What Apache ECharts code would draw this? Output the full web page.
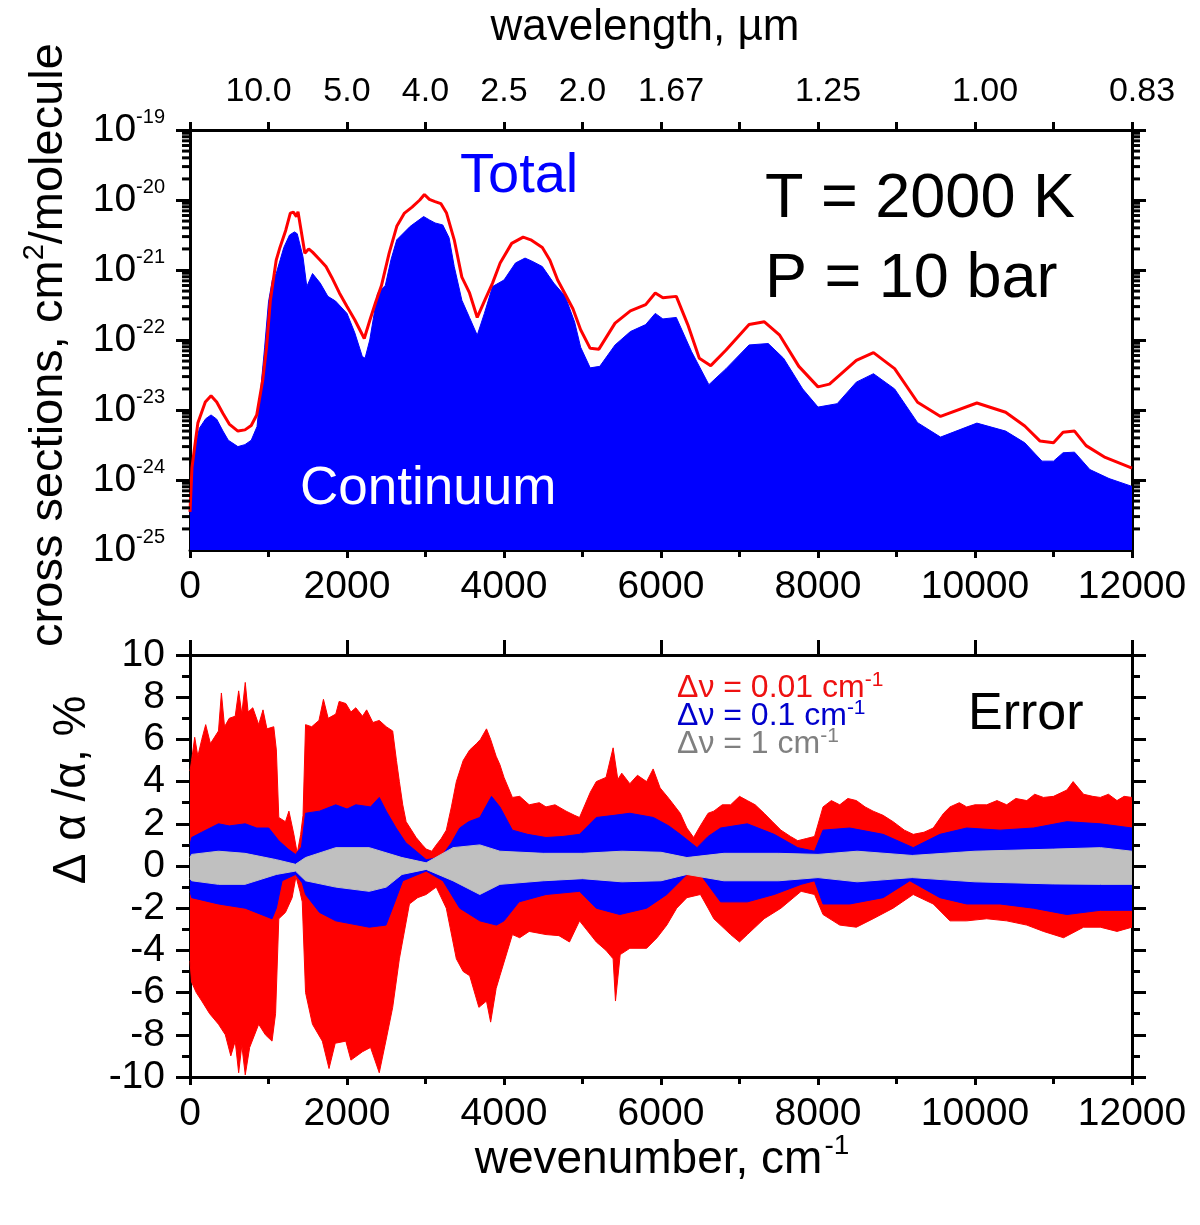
<!DOCTYPE html>
<html>
<head>
<meta charset="utf-8">
<script src="https://cdn.jsdelivr.net/npm/echarts@6/dist/echarts.min.js"></script>
<style>
html,body{margin:0;padding:0;background:#fff;overflow:hidden;}
#chart{width:1200px;height:1225px;}
</style>
</head>
<body>
<div id="chart"></div>
<script>
// ---------- DATA ----------
// Top panel: cross sections (cm^2/molecule) vs wavenumber (cm^-1)
var totalX = [0,25,60,100,195,268,340,420,500,610,700,780,850,927,975,1024,1098,1146,1220,1278,1317,1356,1376,1415,1463,1512,1561,1659,1732,1805,1903,2000,2098,2220,2293,2366,2439,2537,2634,2732,2829,2927,2986,3049,3122,3195,3268,3366,3463,3561,3659,3756,3854,3951,4098,4244,4341,4488,4585,4683,4780,4878,4976,5098,5209,5415,5610,5805,5927,6024,6195,6341,6488,6634,6829,7122,7317,7512,7756,8000,8146,8488,8707,8976,9268,9561,10024,10390,10634,10829,11000,11122,11268,11415,11659,12000];
var totalY = [3.5e-25,1.5e-24,3.0e-24,6.5e-24,1.3e-23,1.6e-23,1.3e-23,8.9e-24,6.3e-24,5.0e-24,5.2e-24,6.0e-24,8.5e-24,2.7e-23,7.9e-23,3.7e-22,1.38e-21,2.1e-21,3.7e-21,6.5e-21,6.7e-21,5.8e-21,6.8e-21,3.7e-21,1.74e-21,2.0e-21,1.8e-21,1.38e-21,1.12e-21,7.9e-22,4.7e-22,3.0e-22,1.95e-22,1.05e-22,1.95e-22,3.5e-22,6.0e-22,1.74e-21,4.2e-21,6.5e-21,7.9e-21,1.0e-20,1.2e-20,1.02e-20,9.5e-21,8.9e-21,6.5e-21,2.7e-21,7.9e-22,4.7e-22,2.1e-22,3.7e-22,6.5e-22,1.26e-21,2.4e-21,2.95e-21,2.7e-21,2.1e-21,1.38e-21,7.2e-22,4.5e-22,2.8e-22,1.4e-22,7.6e-23,7.4e-23,1.74e-22,2.6e-22,3.2e-22,4.7e-22,4.0e-22,4.2e-22,1.66e-22,5.5e-23,4.3e-23,7.2e-23,1.66e-22,1.82e-22,1.17e-22,4.2e-23,2.14e-23,2.34e-23,5.1e-23,6.6e-23,3.9e-23,1.29e-23,8.1e-24,1.26e-23,9.3e-24,5.9e-24,3.6e-24,3.4e-24,4.8e-24,5.0e-24,3.1e-24,2.1e-24,1.48e-24];

var contX = [0,25,73,120,200,268,340,420,488,610,700,780,854,900,951,1000,1049,1098,1195,1268,1330,1366,1439,1488,1561,1659,1756,1854,2000,2100,2195,2230,2290,2390,2488,2560,2634,2805,2976,3050,3122,3220,3300,3366,3463,3560,3659,3750,3854,4000,4146,4268,4350,4488,4634,4780,4900,4976,5098,5220,5415,5610,5805,5927,6024,6195,6390,6610,6829,7122,7366,7561,7805,8000,8244,8488,8707,8976,9268,9561,10024,10390,10634,10853,11000,11122,11268,11463,11707,12000];
var contY = [3.0e-25,1.2e-24,3.3e-24,5.5e-24,7.5e-24,8.5e-24,7.4e-24,5.0e-24,3.7e-24,3.0e-24,3.2e-24,3.7e-24,5.8e-24,1.9e-23,7.9e-23,3.5e-22,7.2e-22,8.9e-22,2.1e-21,3.16e-21,3.5e-21,3.3e-21,1.55e-21,5.8e-22,8.9e-22,6.5e-22,4.2e-22,3.6e-22,2.4e-22,1.26e-22,5.8e-23,5.5e-23,1.0e-22,4.7e-22,6.0e-22,1.4e-21,2.7e-21,4.2e-21,5.8e-21,5.2e-21,4.7e-21,4.4e-21,2.9e-21,1.12e-21,3.7e-22,2.1e-22,1.17e-22,2.4e-22,5.8e-22,7.2e-22,1.26e-21,1.48e-21,1.35e-21,1.12e-21,6.5e-22,4.2e-22,1.8e-22,7.9e-23,4.0e-23,4.2e-23,8.5e-23,1.32e-22,1.66e-22,2.4e-22,2.0e-22,2.1e-22,6.8e-23,2.3e-23,3.9e-23,8.5e-23,8.9e-23,5.5e-23,2.0e-23,1.1e-23,1.23e-23,2.5e-23,3.3e-23,2.0e-23,6.6e-24,4.1e-24,6.5e-24,5.0e-24,3.4e-24,1.86e-24,1.86e-24,2.45e-24,2.5e-24,1.41e-24,1.05e-24,8.1e-25];

// Bottom panel: relative error envelopes (%)
var redUpX = [0,20,60,100,150,200,260,363,400,440,500,576,620,660,704,740,800,875,930,980,1067,1100,1131,1216,1260,1323,1366,1410,1440,1472,1550,1643,1700,1760,1857,1900,1985,2050,2112,2198,2250,2330,2411,2500,2582,2630,2667,2710,2753,2881,2960,3009,3080,3137,3200,3265,3330,3393,3480,3563,3650,3700,3777,3830,3900,3948,4000,4107,4200,4321,4450,4535,4650,4791,4900,4962,5100,5176,5300,5390,5450,5500,5603,5700,5817,5900,5989,6100,6245,6330,6416,6500,6600,6673,6780,6887,7000,7100,7200,7314,7420,7528,7650,7742,7850,7956,8064,8170,8277,8380,8489,8600,8702,8830,8957,9100,9213,9350,9468,9600,9681,9800,9894,10000,10149,10280,10404,10520,10660,10760,10872,11000,11170,11250,11383,11500,11596,11700,11809,11900,12000];
var redUpY = [4.5,5.0,6.1,5.2,6.0,6.7,5.8,6.4,8.2,6.6,7.0,7.1,8.3,7.2,8.7,7.3,7.5,6.7,7.4,6.5,6.6,5.5,2.3,2.1,2.6,1.5,0.6,1.5,2.4,6.7,6.6,6.9,7.9,7.0,7.2,7.8,7.7,7.3,7.5,7.1,7.4,6.8,6.9,6.6,6.4,5.0,4.0,2.9,2.1,1.35,1.0,0.8,0.7,1.0,1.3,1.7,2.8,4.0,5.0,5.5,5.8,6.0,6.5,6.0,5.2,4.8,4.2,3.25,3.3,2.9,3.0,2.8,2.9,2.6,2.4,2.3,3.5,4.0,4.2,5.6,4.1,4.4,3.9,4.3,4.0,4.6,3.7,3.2,2.5,1.8,1.35,1.9,2.5,2.6,2.9,2.9,3.3,3.1,2.9,2.5,2.1,1.7,1.4,1.2,1.3,1.4,2.8,3.1,2.9,3.2,3.1,2.8,2.6,2.4,2.1,1.7,1.5,1.6,1.8,2.5,2.8,3.0,2.8,2.9,2.9,3.1,2.9,3.2,3.1,3.4,3.25,3.3,3.6,4.0,3.4,3.3,3.25,3.4,3.1,3.3,3.25];

var redLoX = [0,20,80,150,250,363,450,520,576,620,660,704,760,875,960,1045,1090,1131,1216,1301,1350,1400,1430,1472,1560,1686,1771,1850,1985,2050,2198,2300,2411,2500,2582,2667,2795,2900,3009,3137,3265,3393,3480,3563,3680,3777,3830,3900,3948,4107,4200,4321,4535,4700,4834,4962,5176,5300,5390,5420,5480,5603,5817,5950,6074,6200,6330,6502,6600,6673,6887,7000,7100,7314,7528,7785,7956,8064,8277,8489,8702,8957,9213,9468,9681,9894,10149,10404,10660,10872,11128,11383,11596,11809,12000];
var redLoY = [-4.5,-5.5,-6.0,-6.4,-7.0,-7.5,-8.0,-9.0,-8.3,-9.8,-8.5,-9.9,-8.6,-7.5,-8.0,-8.3,-7.0,-2.5,-2.2,-1.5,-0.5,-1.2,-1.7,-6.0,-7.5,-8.3,-9.6,-8.4,-8.3,-9.2,-8.8,-8.6,-9.8,-8.2,-6.7,-4.4,-1.8,-1.5,-1.35,-1.0,-2.0,-4.4,-5.0,-5.2,-6.7,-6.4,-7.4,-5.8,-5.2,-3.25,-3.4,-3.1,-3.25,-3.3,-3.6,-2.6,-3.6,-4.0,-4.4,-6.4,-4.2,-3.9,-3.9,-3.4,-2.8,-2.0,-1.5,-1.35,-2.0,-2.5,-3.25,-3.6,-3.25,-2.5,-2.0,-1.2,-1.35,-2.3,-2.8,-2.9,-2.5,-2.0,-1.35,-1.8,-2.6,-2.6,-2.5,-2.6,-2.8,-3.1,-3.4,-2.9,-2.9,-3.1,-2.9];

var blueUpX = [0,21,150,363,500,704,850,1003,1131,1250,1344,1420,1472,1650,1857,2000,2112,2300,2411,2500,2625,2750,2881,3009,3100,3222,3330,3436,3550,3692,3841,3948,4107,4300,4535,4750,4962,5176,5400,5603,5903,6100,6245,6459,6600,6759,7100,7442,7742,7956,8064,8404,8830,9213,9553,9894,10319,10745,11170,11596,12000];
var blueUpY = [1.0,1.35,1.6,2.0,1.9,2.0,1.8,1.8,1.2,0.8,0.55,0.9,2.5,2.6,2.9,2.7,2.9,2.8,3.25,2.6,1.8,1.1,0.7,0.3,0.35,0.55,1.1,1.8,2.1,2.3,3.3,2.8,1.7,1.5,1.35,1.4,1.5,2.3,2.4,2.5,2.3,1.9,1.5,0.87,1.4,1.8,2.0,1.5,0.87,0.7,1.7,1.8,1.5,0.87,1.5,1.8,1.7,1.8,2.1,2.0,1.8];

var blueLoX = [0,21,363,704,1045,1100,1173,1344,1430,1472,1650,1857,2283,2497,2600,2710,3009,3222,3436,3692,3905,4000,4192,4535,4962,5176,5475,5817,6074,6330,6502,6759,7100,7442,7785,7956,8064,8404,8830,9170,9553,9894,10319,10745,11170,11596,12000];
var blueLoY = [-1.2,-1.5,-1.8,-2.0,-2.5,-2.0,-0.7,-0.4,-0.8,-1.35,-2.2,-2.6,-2.9,-2.8,-1.8,-0.7,-0.24,-0.7,-2.0,-2.6,-2.8,-2.6,-1.7,-1.35,-1.2,-2.0,-2.3,-2.0,-1.35,-0.4,-0.4,-1.7,-1.7,-1.35,-0.87,-0.7,-1.8,-1.8,-1.5,-0.7,-1.5,-1.8,-1.8,-2.0,-2.3,-2.1,-2.1];

var greyUpX = [0,21,363,700,1100,1344,1472,1857,2283,2700,3009,3350,3692,3948,4500,5000,5500,6000,6330,6800,7500,8000,8500,9200,10000,11000,11600,12000];
var greyUpY = [0.4,0.55,0.7,0.6,0.3,0.08,0.4,0.87,0.87,0.4,0.15,0.87,1.0,0.7,0.6,0.6,0.7,0.65,0.4,0.6,0.6,0.55,0.7,0.5,0.7,0.8,0.87,0.7];
var greyLoX = [0,21,363,700,1100,1344,1472,1857,2283,2500,2700,3009,3350,3692,3948,4500,5000,5500,6000,6330,6800,7500,8000,8500,9200,10000,11000,11600,12000];
var greyLoY = [-0.6,-0.7,-0.87,-0.87,-0.4,-0.24,-0.7,-1.0,-1.2,-1.0,-0.4,-0.16,-0.7,-1.35,-0.87,-0.7,-0.6,-0.75,-0.7,-0.4,-0.7,-0.7,-0.55,-0.75,-0.55,-0.75,-0.85,-0.87,-0.87];

// Tick labels
var topAxisTicks = [1000,2000,3000,4000,5000,6000,8000,10000,12000];
var topAxisLabels = ['10.0','5.0','4.0','2.5','2.0','1.67','1.25','1.00','0.83'];
var topAxisShift = ['l','c','c','c','c','r','r','r','r'];
var logExponents = [-25,-24,-23,-22,-21,-20,-19];
var logMantissas = [2,3,4,5,6,7,8,9];

// ---------- BUILD ----------
function pairs(xs, ys){ return xs.map(function(x,i){ return [x, ys[i]]; }); }
var minorVals = [];
logExponents.slice(0, -1).forEach(function(d){ logMantissas.forEach(function(m){ minorVals.push([0, m*Math.pow(10,d)]); }); });

var FONT = '"Liberation Sans", Arial, sans-serif';
var BLACK = '#000';
var lineW = 3;
function plain(v){ return String(v); }
function tickStyle(len){ return {show:true, inside:false, length:len, lineStyle:{color:BLACK, width:lineW}}; }
function baseX(extra){
  var o = {
    type:'value', min:0, max:12000, interval:2000,
    axisLine:{show:true, onZero:false, lineStyle:{color:BLACK, width:lineW}},
    axisTick:tickStyle(8),
    minorTick:{show:true, splitNumber:2, length:7, lineStyle:{color:BLACK, width:lineW}},
    splitLine:{show:false}, minorSplitLine:{show:false},
    axisLabel:{show:true, color:BLACK, fontSize:39, fontFamily:FONT, margin:18, formatter:plain, hideOverlap:false}
  };
  for (var k in extra) o[k] = extra[k];
  return o;
}
function logY(pos){
  return {gridIndex:0, type:'log', logBase:10, min:1e-25, max:1e-19, splitNumber:6, position:pos,
    axisLine:{show:true, onZero:false, lineStyle:{color:BLACK, width:lineW}},
    axisTick:tickStyle(14), minorTick:{show:false}, splitLine:{show:false}, axisLabel:{show:false}};
}
function linY(pos, withLabels){
  return {gridIndex:1, type:'value', min:-10, max:10, interval:2, position:pos,
    axisLine:{show:true, onZero:false, lineStyle:{color:BLACK, width:lineW}},
    axisTick:tickStyle(14),
    minorTick:{show:true, splitNumber:2, length:8, lineStyle:{color:BLACK, width:lineW}},
    splitLine:{show:false}, minorSplitLine:{show:false},
    axisLabel:{show:withLabels, margin:25, color:BLACK, fontSize:39, fontFamily:FONT, formatter:plain, hideOverlap:false}
  };
}

var chart = echarts.init(document.getElementById('chart'), null, {renderer:'canvas'});
var option = {
  animation:false,
  backgroundColor:'#fff',
  grid:[
    {left:190, top:130, width:942, height:420, containLabel:false, outerBoundsMode:'none'},
    {left:190, top:655, width:942, height:422, containLabel:false, outerBoundsMode:'none'}
  ],
  xAxis:[
    baseX({gridIndex:0, position:'bottom'}),
    baseX({gridIndex:0, position:'top', interval:1000, axisTick:tickStyle(8), minorTick:{show:false},
      axisLabel:{show:true, color:BLACK, margin:21, hideOverlap:false,
        formatter:function(v){ var i = topAxisTicks.indexOf(v); return i>=0 ? '{' + topAxisShift[i] + '|' + topAxisLabels[i] + '}' : ''; },
        rich:{
          c:{fontSize:34, fontFamily:FONT, color:BLACK},
          l:{fontSize:34, fontFamily:FONT, color:BLACK, padding:[0,20,0,0]},
          r:{fontSize:34, fontFamily:FONT, color:BLACK, padding:[0,0,0,20]}
        }}
    }),
    baseX({gridIndex:0, position:'top', axisLine:{show:false}, axisTick:tickStyle(15),
      minorTick:{show:false}, axisLabel:{show:false}}),
    baseX({gridIndex:1, position:'bottom'}),
    baseX({gridIndex:1, position:'top', axisTick:tickStyle(15), minorTick:{show:false}, axisLabel:{show:false}})
  ],
  yAxis:[
    logY('left'), logY('right'), linY('left', true), linY('right', false),
    // decade labels of the logarithmic axis (same pixel range, exponent units)
    {gridIndex:0, type:'value', min:logExponents[0], max:logExponents[logExponents.length-1], interval:1, position:'left',
      axisLine:{show:false}, axisTick:{show:false}, splitLine:{show:false},
      axisLabel:{show:true, margin:25, color:BLACK, hideOverlap:false, showMinLabel:true, showMaxLabel:true,
        formatter:function(v){ return '{b|10}{s|' + v + '}'; },
        rich:{b:{fontSize:39, fontFamily:FONT, color:BLACK}, s:{fontSize:20, fontFamily:FONT, color:BLACK, padding:[0,0,25,0]}}}}
  ],
  series:[
    {name:'Continuum', type:'line', xAxisIndex:0, yAxisIndex:0, data:pairs(contX, contY),
      showSymbol:false, symbol:'none', lineStyle:{color:'#0000ff', width:1},
      areaStyle:{color:'#0000ff', opacity:1, origin:1e-25}, z:2},
    {name:'Total', type:'line', xAxisIndex:0, yAxisIndex:0, data:pairs(totalX, totalY),
      showSymbol:false, symbol:'none', lineStyle:{color:'#ff0000', width:3}, z:3},
    {name:'logMinor', type:'custom', xAxisIndex:0, yAxisIndex:0, data:minorVals, clip:false, silent:true, z:5,
      renderItem:function(params, api){
        var p = api.coord([0, api.value(1)]);
        var cs = params.coordSys;
        var len = 8;
        return {type:'group', children:[
          {type:'line', shape:{x1:cs.x - len, y1:p[1], x2:cs.x, y2:p[1]}, style:{stroke:BLACK, lineWidth:lineW}},
          {type:'line', shape:{x1:cs.x + cs.width, y1:p[1], x2:cs.x + cs.width + len, y2:p[1]}, style:{stroke:BLACK, lineWidth:lineW}}
        ]};
      }},
    {name:'red+', type:'line', xAxisIndex:3, yAxisIndex:2, data:pairs(redUpX, redUpY), showSymbol:false, symbol:'none',
      lineStyle:{color:'#ff0000', width:1}, areaStyle:{color:'#ff0000', opacity:1}, z:2},
    {name:'red-', type:'line', xAxisIndex:3, yAxisIndex:2, data:pairs(redLoX, redLoY), showSymbol:false, symbol:'none',
      lineStyle:{color:'#ff0000', width:1}, areaStyle:{color:'#ff0000', opacity:1}, z:2},
    {name:'blue+', type:'line', xAxisIndex:3, yAxisIndex:2, data:pairs(blueUpX, blueUpY), showSymbol:false, symbol:'none',
      lineStyle:{color:'#0000ff', width:1}, areaStyle:{color:'#0000ff', opacity:1}, z:3},
    {name:'blue-', type:'line', xAxisIndex:3, yAxisIndex:2, data:pairs(blueLoX, blueLoY), showSymbol:false, symbol:'none',
      lineStyle:{color:'#0000ff', width:1}, areaStyle:{color:'#0000ff', opacity:1}, z:3},
    {name:'grey+', type:'line', xAxisIndex:3, yAxisIndex:2, data:pairs(greyUpX, greyUpY), showSymbol:false, symbol:'none',
      lineStyle:{color:'#c0c0c0', width:1}, areaStyle:{color:'#c0c0c0', opacity:1}, z:4},
    {name:'grey-', type:'line', xAxisIndex:3, yAxisIndex:2, data:pairs(greyLoX, greyLoY), showSymbol:false, symbol:'none',
      lineStyle:{color:'#c0c0c0', width:1}, areaStyle:{color:'#c0c0c0', opacity:1}, z:4}
  ],
  graphic:[
    // axis titles
    {type:'text', x:645, y:28, z:10, style:{text:'wavelength, \u00b5m', fill:BLACK, font:'44px ' + FONT, align:'center', verticalAlign:'middle'}},
    {type:'text', x:662, y:1160, z:10, style:{text:'{a|wevenumber, cm}{s|-1}', align:'center', verticalAlign:'middle',
      rich:{a:{fill:BLACK, font:'46px ' + FONT}, s:{fill:BLACK, font:'28px ' + FONT, padding:[0,0,28,2]}}}},
    {type:'text', x:49, y:345, rotation:Math.PI/2, z:10, style:{text:'{a|cross sections, cm}{s|2}{a|/molecule}', align:'center', verticalAlign:'middle',
      rich:{a:{fill:BLACK, font:'47px ' + FONT}, s:{fill:BLACK, font:'29px ' + FONT, padding:[0,0,28,0]}}}},
    {type:'text', x:72, y:790, rotation:Math.PI/2, z:10, style:{text:'\u0394 \u03b1 /\u03b1, %', fill:BLACK, font:'46px ' + FONT, align:'center', verticalAlign:'middle'}},
    // annotations
    {type:'text', x:460, y:177, z:10, style:{text:'Total', fill:'#0000ff', font:'56px ' + FONT, verticalAlign:'middle'}},
    {type:'text', x:765, y:200, z:10, style:{text:'T = 2000 K', fill:BLACK, font:'63px ' + FONT, verticalAlign:'middle'}},
    {type:'text', x:765, y:280, z:10, style:{text:'P = 10 bar', fill:BLACK, font:'63px ' + FONT, verticalAlign:'middle'}},
    {type:'text', x:300, y:489, z:10, style:{text:'Continuum', fill:'#ffffff', font:'53px ' + FONT, verticalAlign:'middle'}},
    {type:'text', x:968, y:715, z:10, style:{text:'Error', fill:BLACK, font:'52px ' + FONT, verticalAlign:'middle'}},
    {type:'text', x:677, y:688, z:10, style:{text:'{a|\u0394\u03bd = 0.01 cm}{s|-1}', verticalAlign:'middle',
      rich:{a:{fill:'#ee1111', font:'32px ' + FONT}, s:{fill:'#ee1111', font:'21px ' + FONT, padding:[0,0,16,0]}}}},
    {type:'text', x:677, y:716, z:10, style:{text:'{a|\u0394\u03bd = 0.1 cm}{s|-1}', verticalAlign:'middle',
      rich:{a:{fill:'#0000cc', font:'32px ' + FONT}, s:{fill:'#0000cc', font:'21px ' + FONT, padding:[0,0,16,0]}}}},
    {type:'text', x:677, y:744, z:10, style:{text:'{a|\u0394\u03bd = 1 cm}{s|-1}', verticalAlign:'middle',
      rich:{a:{fill:'#808080', font:'32px ' + FONT}, s:{fill:'#808080', font:'21px ' + FONT, padding:[0,0,16,0]}}}}
  ]
};
chart.setOption(option);
</script>
</body>
</html>
